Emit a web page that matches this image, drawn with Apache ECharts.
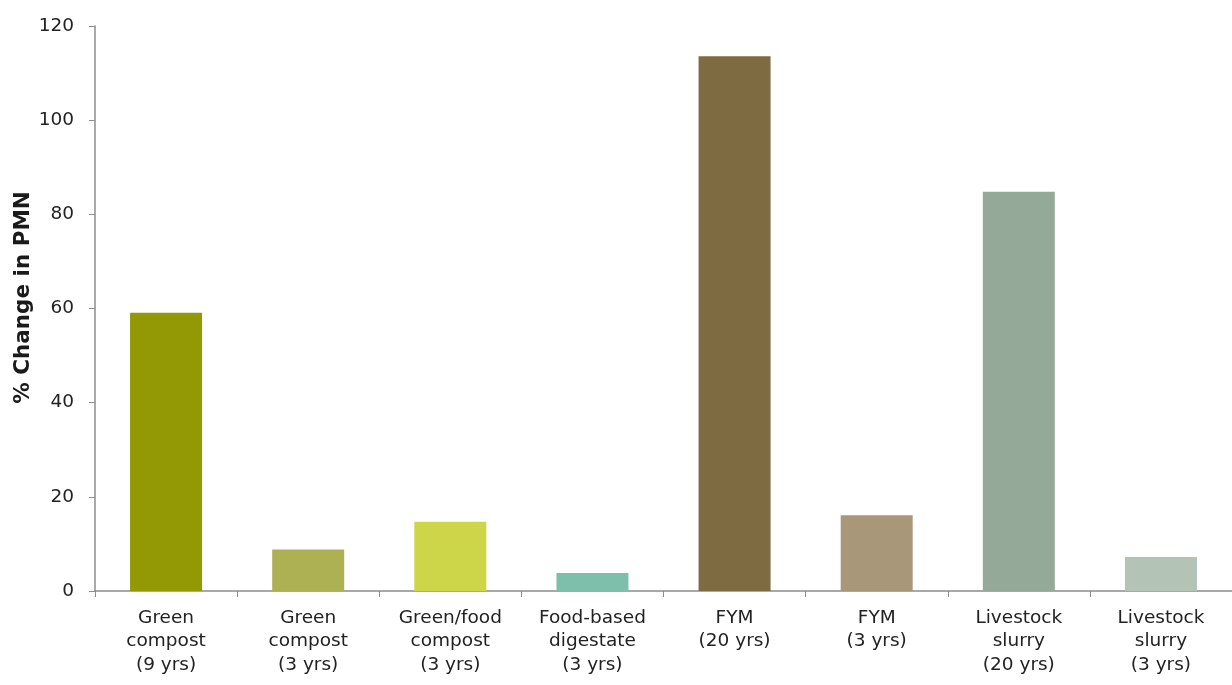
<!DOCTYPE html>
<html>
<head>
<meta charset="utf-8">
<script src="https://cdn.jsdelivr.net/npm/echarts@6/dist/echarts.min.js"></script>
<style>html,body{margin:0;padding:0;background:#fff;}#c{width:1232px;height:685px;}</style>
</head>
<body>
<div id="c"></div>
<script>
const categories = [
  "Green\ncompost\n(9 yrs)",
  "Green\ncompost\n(3 yrs)",
  "Green/food\ncompost\n(3 yrs)",
  "Food-based\ndigestate\n(3 yrs)",
  "FYM\n(20 yrs)",
  "FYM\n(3 yrs)",
  "Livestock\nslurry\n(20 yrs)",
  "Livestock\nslurry\n(3 yrs)"
];
const pmnChange = [59.1, 8.8, 14.7, 3.8, 113.6, 16.1, 84.8, 7.2];
const barColors = ["#939805", "#adb153", "#cdd549", "#7ebfab", "#7e6b42", "#a89879", "#95a999", "#b3c3b6"];
const yTicks = { min: 0, max: 120, interval: 20 };

const chart = echarts.init(document.getElementById('c'), null, { renderer: 'canvas' });
const font = "DejaVu Sans";
chart.setOption({
  animation: false,
  backgroundColor: '#ffffff',
  grid: { left: 95, right: 0, top: 26, bottom: 94, containLabel: false, outerBoundsMode: 'none' },
  xAxis: {
    type: 'category',
    data: categories,
    axisLine: { lineStyle: { color: '#8c8c8c', width: 1.5 } },
    axisTick: { show: true, alignWithLabel: false, length: 6, lineStyle: { color: '#8c8c8c' } },
    axisLabel: { color: '#222', fontFamily: font, fontSize: 18.5, lineHeight: 23.5, margin: 15, interval: 0 }
  },
  yAxis: {
    type: 'value',
    min: yTicks.min, max: yTicks.max, interval: yTicks.interval,
    name: '% Change in PMN',
    nameLocation: 'middle',
    nameGap: 61,
    nameMoveOverlap: false,
    nameRotate: 90,
    nameTextStyle: { fontFamily: font, fontSize: 21.5, fontWeight: 'bold', color: '#1a1a1a', padding: [0, 0, 0, 22] },
    axisLine: { show: true, lineStyle: { color: '#8c8c8c', width: 1.5 } },
    axisTick: { show: true, length: 6, lineStyle: { color: '#8c8c8c' } },
    splitLine: { show: false },
    axisLabel: { color: '#222', fontFamily: font, fontSize: 18.5, margin: 21 }
  },
  series: [{
    type: 'bar',
    data: pmnChange.map((v, i) => ({ value: v, itemStyle: { color: barColors[i] } })),
    barWidth: 72
  }]
});
</script>
</body>
</html>
